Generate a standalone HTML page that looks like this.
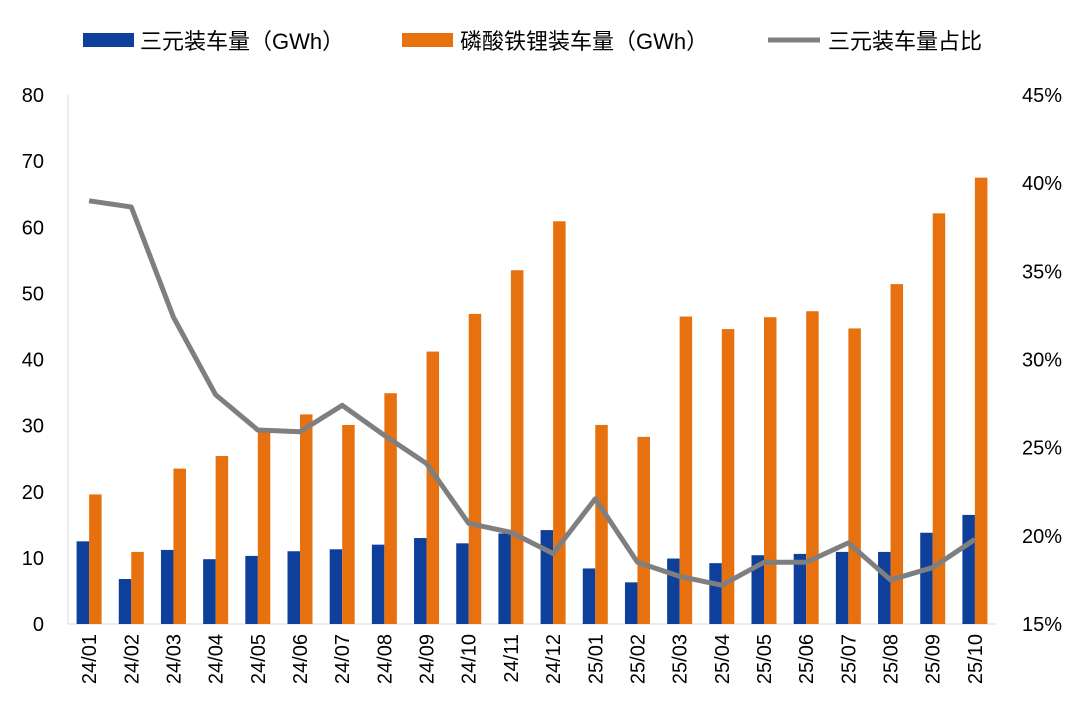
<!DOCTYPE html>
<html><head><meta charset="utf-8"><style>
body{margin:0;background:#fff;font-family:"Liberation Sans","Noto Sans CJK SC",sans-serif}
</style></head><body>
<svg id="c" width="1080" height="720" xmlns="http://www.w3.org/2000/svg" font-family="Liberation Sans, Noto Sans CJK SC, sans-serif"></svg>
<script>
const categories=["24/01","24/02","24/03","24/04","24/05","24/06","24/07","24/08","24/09","24/10","24/11","24/12","25/01","25/02","25/03","25/04","25/05","25/06","25/07","25/08","25/09","25/10"];
const ternary=[12.5,6.8,11.2,9.8,10.3,11.0,11.3,12.0,13.0,12.2,13.7,14.2,8.4,6.3,9.9,9.2,10.4,10.6,10.9,10.9,13.8,16.5];
const lfp=[19.6,10.9,23.5,25.4,29.5,31.7,30.1,34.9,41.2,46.9,53.5,60.9,30.1,28.3,46.5,44.6,46.4,47.3,44.7,51.4,62.1,67.5];
const share=[39.0,38.65,32.4,28.0,26.0,25.9,27.4,25.7,24.1,20.7,20.2,19.0,22.1,18.5,17.7,17.2,18.5,18.5,19.6,17.5,18.2,19.8];
const leftTicks=[0,10,20,30,40,50,60,70,80];
const rightTicks=[15,20,25,30,35,40,45];
const NS="http://www.w3.org/2000/svg",svg=document.getElementById('c');
const x0=68,x1=996,yTop=95,yBot=624,band=(x1-x0)/categories.length;
const yL=v=>yBot-(v/80)*(yBot-yTop);
const yR=v=>yBot-((v-15)/30)*(yBot-yTop);
const xc=i=>x0+band*(i+0.5);
function mk(t,a,p){const e=document.createElementNS(NS,t);for(const k in a)e.setAttribute(k,a[k]);(p||svg).appendChild(e);return e;}
let ax=mk('line',{x1:x0,x2:x0,y1:yTop,y2:yBot,stroke:'#d9d9d9','stroke-width':1});


let bx=mk('line',{x1:x0,x2:x1,y1:yBot,y2:yBot,stroke:'#d9d9d9','stroke-width':1});


leftTicks.forEach(v=>{let t=mk('text',{x:44,y:yL(v)+7,'text-anchor':'end','font-size':20,fill:'#000'});t.textContent=v;

});
rightTicks.forEach(v=>{let t=mk('text',{x:1062,y:yR(v)+7,'text-anchor':'end','font-size':20,fill:'#000'});t.textContent=v+'%';

});
const bw=12.5;
categories.forEach((c,i)=>{
 let b=mk('rect',{x:xc(i)-bw,y:yL(ternary[i]),width:bw,height:yBot-yL(ternary[i]),fill:'#0d3f9b'});
 
 
 let o=mk('rect',{x:xc(i),y:yL(lfp[i]),width:bw,height:yBot-yL(lfp[i]),fill:'#e8710f'});
 
 
 let t=mk('text',{transform:`translate(${xc(i)+7},${634}) rotate(-90)`,'text-anchor':'end','font-size':20,fill:'#000'});t.textContent=c;
 
 
});
let l=mk('polyline',{points:share.map((v,i)=>xc(i)+','+yR(v)).join(' '),fill:'none',stroke:'#7f7f7f','stroke-width':5,'stroke-linejoin':'round'});


const leg=mk('g',{});


let r1=mk('rect',{x:83,y:33,width:51,height:14,fill:'#0d3f9b'},leg);


let t1=mk('text',{x:140,y:49,'font-size':22},leg);t1.textContent='三元装车量（GWh）';


let r2=mk('rect',{x:402,y:33,width:51,height:14,fill:'#e8710f'},leg);


let t2=mk('text',{x:460,y:49,'font-size':22},leg);t2.textContent='磷酸铁锂装车量（GWh）';


let r3=mk('line',{x1:768,x2:820,y1:40,y2:40,stroke:'#7f7f7f','stroke-width':5},leg);


let t3=mk('text',{x:828,y:49,'font-size':22},leg);t3.textContent='三元装车量占比';


</script>
</body></html>
